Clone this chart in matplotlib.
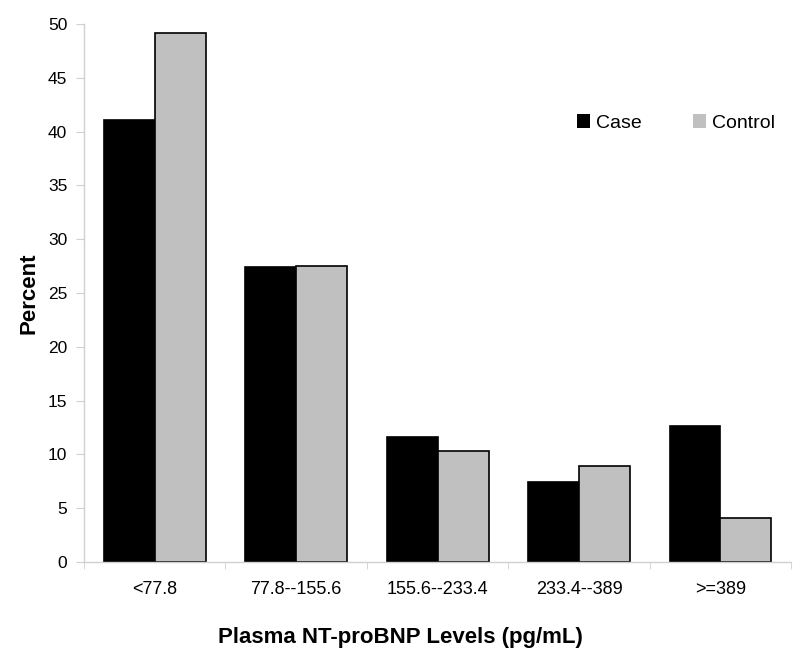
import matplotlib
matplotlib.use("Agg")
import matplotlib.pyplot as plt
import numpy as np
from matplotlib.patches import Patch

categories = ["<77.8", "77.8--155.6", "155.6--233.4", "233.4--389", ">=389"]
case_vals = [41.1, 27.4, 11.6, 7.4, 12.6]
control_vals = [49.2, 27.5, 10.3, 8.9, 4.1]
yticks = [0, 5, 10, 15, 20, 25, 30, 35, 40, 45, 50]

plt.rcParams['font.family'] = ['Liberation Sans', 'DejaVu Sans']

fig = plt.figure(figsize=(8, 6.54), dpi=100)
ax = fig.add_axes([0.105, 0.1407, 0.884, 0.8226])

x = np.arange(len(categories))
w = 0.36
ax.bar(x - w/2, case_vals, w, color="black", edgecolor="black", linewidth=1.2, label="Case")
ax.bar(x + w/2, control_vals, w, color="#c0c0c0", edgecolor="black", linewidth=1.2, label="Control")

ax.set_xlim(-0.5, len(categories) - 0.5)
ax.set_ylim(0, 50)
ax.set_yticks(yticks)
ax.set_xticks(x)
ax.set_xticklabels(categories, fontsize=13)
ax.set_xticks(np.arange(len(categories) + 1) - 0.5, minor=True)
ax.tick_params(axis='x', which='major', length=0, pad=14)
ax.tick_params(axis='x', which='minor', length=5, color="#d0d0d0", direction='out')
ax.tick_params(axis='y', length=6, color="#d0d0d0", labelsize=12.5, pad=6)

for s in ["top", "right"]:
    ax.spines[s].set_visible(False)
for s in ["left", "bottom"]:
    ax.spines[s].set_color("#d0d0d0")
    ax.spines[s].set_linewidth(1.0)

ax.set_ylabel("Percent", fontsize=16, fontweight="bold", labelpad=6)
ax.set_xlabel("Plasma NT-proBNP Levels (pg/mL)", fontsize=16, fontweight="bold", labelpad=20)
ax.xaxis.set_label_coords(0.4476, -0.121)

handles = [Patch(facecolor="black", edgecolor="none", label="Case"),
           Patch(facecolor="#c0c0c0", edgecolor="none", label="Control")]
fig.legend(handles=handles, loc="center left", bbox_to_anchor=(577/800, 1 - 123/654),
           ncol=2, frameon=False, fontsize=14, handlelength=0.67, handleheight=0.67,
           handletextpad=0.3, columnspacing=2.65, borderpad=0, borderaxespad=0)

fig.savefig("out.png", dpi=100)
